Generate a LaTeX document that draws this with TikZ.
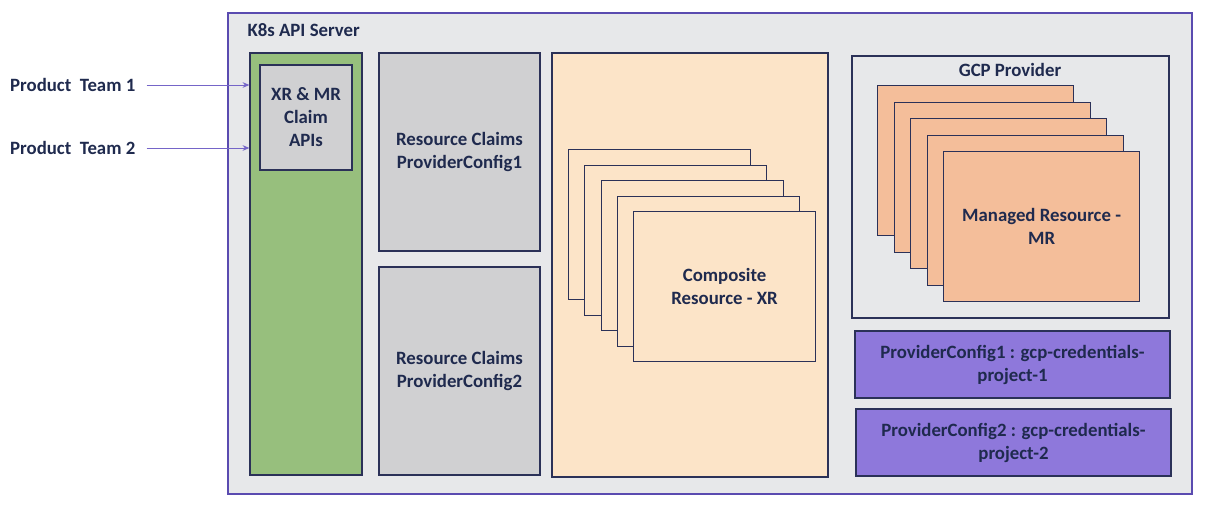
\documentclass[tikz,border=0pt]{standalone}
\usepackage{fontspec}
\setmainfont{Carlito}
\usepackage{xcolor}
\usetikzlibrary{arrows.meta,positioning}
\definecolor{navy}{HTML}{1F2A4E}
\definecolor{edge}{HTML}{2B3158}
\definecolor{violet2}{HTML}{5A4BB0}
\definecolor{arrowc}{HTML}{7565C8}
\definecolor{server}{HTML}{E7E8EA}
\definecolor{green2}{HTML}{97BF7D}
\definecolor{gray2}{HTML}{D0D0D2}
\definecolor{peach}{HTML}{FCE4C8}
\definecolor{salmon}{HTML}{F4BE9A}
\definecolor{purple2}{HTML}{8E78DB}

\begin{document}
\begin{tikzpicture}[x=1pt,y=-1pt,
          every node/.style={font=\fontsize{18.8}{23}\selectfont\bfseries,text=navy},
          panel/.style={draw=edge,line width=1.2pt,inner sep=0pt,align=center},
          serverbox/.style={panel,draw=violet2,fill=server},
          card/.style={panel,minimum width=#1,minimum height=150pt,anchor=north west},
          cfgbox/.style={panel,fill=purple2,minimum width=315pt,minimum height=67pt},
          arr/.style={-{Stealth[length=2.4mm,width=2mm]},draw=arrowc,line width=1pt},
      ]
        \useasboundingbox (0,0) rectangle (1205,507);

        % api server frame
        \node[serverbox,minimum width=964pt,minimum height=481pt] (server) at (710,253.5) {};
        \node[anchor=west] (srvtitle) at (244,30) {K8s API Server};

        % claim api column
        \node[panel,fill=green2,minimum width=112pt,minimum height=422pt] (claimcol) at (306,264) {};
        \node[panel,fill=gray2,minimum width=92pt,minimum height=105pt] (claimapi) at (306,117.5)
          {XR \& MR\\Claim\\APIs};

        % resource claims
        \node[panel,fill=gray2,minimum width=161pt,minimum height=198pt] (rc1) at (459.5,152)
          {Resource Claims\\ProviderConfig1};
        \node[panel,fill=gray2,minimum width=161pt,minimum height=208pt] (rc2) at (459.5,371)
          {Resource Claims\\ProviderConfig2};

        % composite resources
        \node[panel,fill=peach,minimum width=276pt,minimum height=424pt] (xrpanel) at (690,265) {};
        \foreach \i in {0,...,4}
          \node[card=182pt,fill=peach] (xr\i) at (568+16.25*\i,149+15.5*\i) {};
        \node[align=center] (xrtext) at (xr4.center) {Composite\\Resource - XR};

        % gcp provider
        \node[panel,fill=server,minimum width=317pt,minimum height=262pt] (gcp) at (1010.5,187) {};
        \node (gcptitle) at (1010,70) {GCP Provider};
        \foreach \i in {0,...,4}
          \node[card=196pt,fill=salmon] (mr\i) at (877+16.5*\i,85+16.5*\i) {};
        \node[align=center] (mrtext) at (mr4.center) {Managed Resource -\\MR};

        % provider configs
        \node[cfgbox] (pc1) at (1012.5,364.5) {ProviderConfig1 : gcp-credentials-\\project-1};
        \node[cfgbox] (pc2) at (1013.5,442.5) {ProviderConfig2 : gcp-credentials-\\project-2};

        % product teams
        \node[anchor=west,inner xsep=0pt] (team1) at (10,85) {Product\ \ Team 1};
        \node[anchor=west,inner xsep=0pt] (team2) at (10,148) {Product\ \ Team 2};
        \draw[arr] ([xshift=11pt]team1.east) -- (team1.east -| claimcol.west);
        \draw[arr] ([xshift=11pt]team2.east) -- (team2.east -| claimcol.west);
\end{tikzpicture}
\end{document}
